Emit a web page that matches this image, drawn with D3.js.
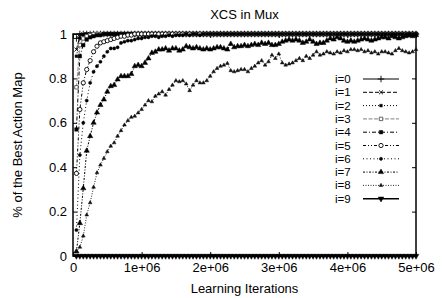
<!DOCTYPE html>
<html>
<head>
<meta charset="utf-8">
<script src="https://cdn.jsdelivr.net/npm/d3@7"></script>
<style>
  body { margin: 0; background: #fff; }
  svg { display: block; font-family: "Liberation Sans", Arial, sans-serif; }
</style>
</head>
<body>
<svg id="chart" width="444" height="298"></svg>
<script>
// sample points every 50000 iterations
const iterations = d3.range(50000, 5000001, 50000);

const xTicks = [0, 1e6, 2e6, 3e6, 4e6, 5e6];
const xTickLabels = ["0", "1e+06", "2e+06", "3e+06", "4e+06", "5e+06"];
const yTicks = [0, 0.2, 0.4, 0.6, 0.8, 1];
const yTickLabels = ["0", "0.2", "0.4", "0.6", "0.8", "1"];
const labels = ["i=0", "i=1", "i=2", "i=3", "i=4", "i=5", "i=6", "i=7", "i=8", "i=9"];

const best0 = [0.98,1,1,1,1,1,1,1,1,1, 1,1,1,1,1,1,1,1,1,1, 1,1,1,1,1,1,1,1,1,1, 1,1,1,1,1,1,1,1,1,1,
  1,1,1,1,1,1,1,1,1,1, 1,1,1,1,1,1,1,1,1,1, 1,1,1,1,1,1,1,1,1,1, 1,1,1,1,1,1,1,1,1,1,
  1,1,1,1,1,1,1,1,1,1, 1,1,1,1,1,1,1,1,1,1];
const best1 = [0.93,0.99,1,1,1,1,0.995,1,1,1, 1,1,1,1,1,1,1,1,1,1, 1,1,1,1,1,1,1,1,1,1, 1,1,1,1,1,1,1,1,1,1,
  1,1,1,1,1,1,1,1,1,1, 1,1,1,1,1,1,1,1,1,1, 1,1,1,1,1,1,1,1,1,1, 1,1,1,1,1,1,1,1,1,1,
  1,1,1,1,1,1,1,1,1,1, 1,1,1,1,1,1,1,1,1,1];
const best2 = [0.9,0.98,0.995,1,1,1,1,1,1,1, 1,1,1,1,1,1,1,1,1,1, 1,1,1,1,1,1,1,1,1,1, 1,1,1,1,1,1,1,1,1,1,
  1,1,1,1,1,1,1,1,1,1, 1,1,1,1,1,1,1,1,1,1, 1,1,1,1,1,1,1,1,1,1, 1,1,1,1,1,1,1,1,1,1,
  1,1,1,1,1,1,1,1,1,1, 1,1,1,1,1,1,1,1,1,1];
const best3 = [0.76,0.95,0.98,0.99,0.995,1,1,1,1,1, 1,1,1,1,1,1,1,1,1,1, 1,1,1,1,1,1,1,1,1,1, 1,1,1,1,1,1,1,1,1,1,
  1,1,1,1,1,1,1,1,1,1, 1,1,1,1,1,1,1,1,1,1, 1,1,1,1,1,1,1,1,1,1, 1,1,1,1,1,1,1,1,1,1,
  1,1,1,1,1,1,1,1,1,1, 1,1,1,1,1,1,1,1,1,1];
const best4 = [0.57,0.9,0.95,0.975,0.985,0.99,0.995,0.995,1,1, 1,1,1,1,1,1,1,1,1,1, 1,1,1,1,1,1,1,1,1,1, 1,1,1,1,1,1,1,1,1,1,
  1,1,1,1,1,1,1,1,1,1, 1,1,1,1,1,1,1,1,1,1, 1,1,1,1,1,1,1,1,1,1, 1,1,1,1,1,1,1,1,1,1,
  1,1,1,1,1,1,1,1,1,1, 1,1,1,1,1,1,1,1,1,1];
const best5 = [0.372,0.66,0.78,0.84,0.88,0.92,0.945,0.96,0.965,0.97, 0.975,0.98,0.985,0.99,0.99,0.995,0.995,1,1,1,
  1,1,1,1,1,1,1,1,1,1, 1,1,1,1,1,1,1,1,1,1, 1,1,1,1,1,1,1,1,1,1, 1,1,1,1,1,1,1,1,1,1,
  1,1,1,1,1,1,1,1,1,1, 1,1,1,1,1,1,1,1,1,1, 1,1,1,1,1,1,1,1,1,1, 1,1,1,1,1,1,1,1,1,1];
const best6 = [0.117,0.455,0.6,0.7,0.78,0.83,0.855,0.875,0.9,0.92, 0.935,0.935,0.94,0.96,0.965,0.97,0.97,0.975,0.98,0.98,
  0.985,0.985,0.99,0.99,0.985,0.99,0.99,0.995,0.99,0.995, 0.995,0.995,1,0.995,1,1,0.995,1,1,1,
  1,1,1,1,1,1,1,1,1,1, 1,1,1,1,1,1,1,1,1,1, 1,1,1,1,1,1,1,1,1,1, 1,1,1,1,1,1,1,1,1,1,
  1,1,1,1,1,1,1,1,1,1, 1,1,1,1,1,1,1,1,1,1];
const best7 = [0.02,0.148,0.305,0.474,0.54,0.6,0.646,0.68,0.705,0.74, 0.765,0.77,0.795,0.81,0.81,0.81,0.82,0.855,0.86,0.855,
  0.87,0.89,0.915,0.92,0.93,0.93,0.935,0.925,0.935,0.935, 0.925,0.93,0.945,0.94,0.935,0.94,0.935,0.93,0.935,0.93,
  0.935,0.94,0.94,0.935,0.93,0.955,0.94,0.945,0.945,0.95, 0.945,0.95,0.955,0.95,0.96,0.955,0.96,0.95,0.95,0.955,
  0.965,0.97,0.975,0.97,0.975,0.97,0.96,0.965,0.975,0.965, 0.955,0.96,0.96,0.97,0.98,0.975,0.985,0.98,0.97,0.965,
  0.97,0.965,0.97,0.975,0.98,0.975,0.97,0.975,0.98,0.985, 0.985,0.98,0.99,0.985,0.98,0.985,0.99,0.995,0.99,0.995];
const best8 = [0.02,0.04,0.09,0.185,0.24,0.31,0.375,0.41,0.44,0.47, 0.495,0.51,0.54,0.565,0.59,0.61,0.625,0.63,0.645,0.66,
  0.68,0.7,0.695,0.72,0.73,0.74,0.725,0.75,0.77,0.79, 0.785,0.79,0.775,0.745,0.77,0.79,0.78,0.78,0.79,0.81,
  0.83,0.845,0.855,0.86,0.868,0.835,0.83,0.835,0.84,0.84, 0.83,0.845,0.855,0.87,0.88,0.86,0.875,0.905,0.89,0.91,
  0.87,0.86,0.865,0.87,0.88,0.89,0.88,0.9,0.89,0.905, 0.92,0.905,0.91,0.92,0.915,0.91,0.92,0.915,0.925,0.92,
  0.93,0.93,0.925,0.93,0.92,0.925,0.915,0.92,0.91,0.92, 0.92,0.915,0.91,0.925,0.935,0.925,0.92,0.915,0.92,0.93];
const best9 = [0,0,0,0,0,0,0,0,0,0, 0,0,0,0,0,0,0,0,0,0, 0,0,0,0,0,0,0,0,0,0, 0,0,0,0,0,0,0,0,0,0,
  0,0,0,0,0,0,0,0,0,0, 0,0,0,0,0,0,0,0,0,0, 0,0,0,0,0,0,0,0,0,0, 0,0,0,0,0,0,0,0,0,0,
  0,0,0,0,0,0,0,0,0,0, 0,0,0,0,0,0,0,0,0,0];

const allSeries = [best0, best1, best2, best3, best4, best5, best6, best7, best8, best9];

// gnuplot-ish monochrome line types
const plus = d3.symbolPlus || d3.symbolCross;
const times = d3.symbolTimes || d3.symbolCross;
const styles = [
  { dash: null,          color: "#000", width: 1,   sym: plus,               size: 16, fill: false },
  { dash: "4,2",         color: "#000", width: 1,   sym: times,              size: 12, fill: false },
  { dash: "1,2",         color: "#000", width: 1,   sym: d3.symbolSquare,    size: 7,  fill: true },
  { dash: "4,1.5",       color: "#999", width: 1.2, sym: d3.symbolSquare,    size: 12, fill: false, stroke: "#555" },
  { dash: "4,2,1,2",     color: "#000", width: 1,   sym: d3.symbolSquare,    size: 12, fill: true },
  { dash: "3,2,1,2,1,2", color: "#000", width: 1,   sym: d3.symbolCircle,    size: 14, fill: false },
  { dash: "1,2.5",       color: "#000", width: 1,   sym: d3.symbolCircle,    size: 8,  fill: true },
  { dash: "2,1.5,1,1.5", color: "#000", width: 1,   sym: d3.symbolTriangle,  size: 12, fill: true },
  { dash: "1,1.5",       color: "#111", width: 0.9, sym: d3.symbolTriangle,  size: 6,  fill: true },
  { dash: null,          color: "#000", width: 1.5, sym: d3.symbolTriangle,  size: 14, fill: true, flip: true }
];

const svg = d3.select("#chart");
const W = 444, H = 298;
const margin = { top: 34, right: 28, bottom: 42, left: 73 };
const w = W - margin.left - margin.right;
const h = H - margin.top - margin.bottom;

const x = d3.scaleLinear().domain([0, 5e6]).range([0, w]);
const y = d3.scaleLinear().domain([0, 1]).range([h, 0]);

const g = svg.append("g").attr("transform", `translate(${margin.left},${margin.top})`);

svg.append("text")
  .attr("x", margin.left + w / 2).attr("y", 19)
  .attr("text-anchor", "middle").attr("font-size", 13)
  .text("XCS in Mux");

// axes with inward ticks, mirrored on top/right
const axB = g.append("g").attr("transform", `translate(0,${h})`)
  .call(d3.axisBottom(x).tickValues(xTicks).tickFormat((d, i) => xTickLabels[i])
    .tickSizeInner(-4).tickSizeOuter(0).tickPadding(7));
const axL = g.append("g")
  .call(d3.axisLeft(y).tickValues(yTicks).tickFormat((d, i) => yTickLabels[i])
    .tickSizeInner(-4).tickSizeOuter(0).tickPadding(6));
const axT = g.append("g")
  .call(d3.axisTop(x).tickValues(xTicks).tickFormat("").tickSizeInner(-4).tickSizeOuter(0));
const axR = g.append("g").attr("transform", `translate(${w},0)`)
  .call(d3.axisRight(y).tickValues(yTicks).tickFormat("").tickSizeInner(-4).tickSizeOuter(0));

[axB, axL, axT, axR].forEach(a => {
  a.select(".domain").remove();
  a.selectAll("line").attr("stroke", "#000");
  a.selectAll("text").attr("font-size", 13).attr("fill", "#000")
    .attr("font-family", "Liberation Sans, Arial, sans-serif");
});

g.append("rect").attr("width", w).attr("height", h)
  .attr("fill", "none").attr("stroke", "#000").attr("stroke-width", 1.5);

svg.append("text")
  .attr("x", margin.left + w / 2).attr("y", 293)
  .attr("text-anchor", "middle").attr("font-size", 13)
  .text("Learning Iterations");

svg.append("text")
  .attr("transform", `translate(22,${margin.top + h / 2}) rotate(-90)`)
  .attr("text-anchor", "middle").attr("font-size", 13)
  .text("% of the Best Action Map");

const line = d3.line().x((d, i) => x(iterations[i])).y(d => y(d));

function markerAttrs(sel, st) {
  sel.attr("d", d3.symbol().type(st.sym).size(st.size))
    .attr("fill", st.fill ? (st.stroke || st.color) : (st.sym === plus || st.sym === times ? "none" : "#fff"))
    .attr("stroke", st.stroke || st.color)
    .attr("stroke-width", st.fill ? 0.5 : 0.9);
}

allSeries.forEach((vals, si) => {
  const st = styles[si];
  const sg = g.append("g");
  sg.append("path").datum(vals)
    .attr("d", line).attr("fill", "none")
    .attr("stroke", st.color).attr("stroke-width", st.width)
    .attr("stroke-dasharray", st.dash);
  sg.selectAll("path.pt").data(vals).join("path").attr("class", "pt")
    .attr("transform", (d, i) => `translate(${x(iterations[i])},${y(d)})${st.flip ? " rotate(180)" : ""}`)
    .call(markerAttrs, st);
});

// legend
const leg = svg.append("g");
labels.forEach((lab, i) => {
  const st = styles[i];
  const ly = 79 + i * 13.3;
  leg.append("text").attr("x", 335).attr("y", ly + 4)
    .attr("font-size", 11.5).text(lab);
  leg.append("line").attr("x1", 363).attr("x2", 399).attr("y1", ly).attr("y2", ly)
    .attr("stroke", st.color).attr("stroke-width", st.width)
    .attr("stroke-dasharray", st.dash);
  leg.append("path")
    .attr("transform", `translate(381,${ly})${st.flip ? " rotate(180)" : ""}`)
    .call(markerAttrs, st);
});
</script>
</body>
</html>
